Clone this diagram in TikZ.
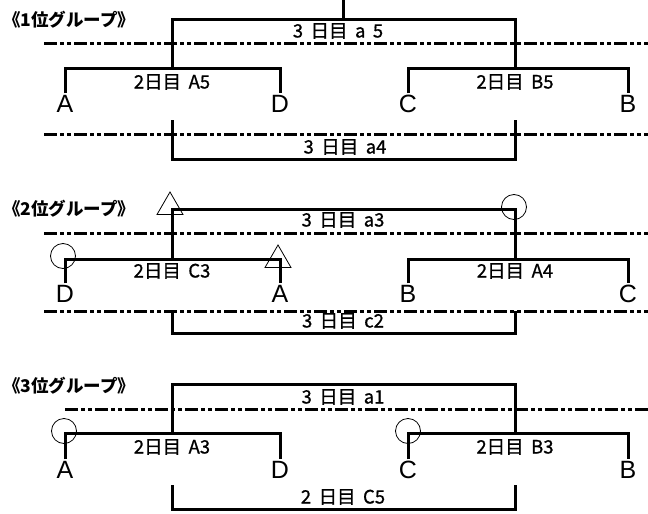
\documentclass[tikz,border=0pt]{standalone}
\usepackage{fontspec}
\setmainfont{Liberation Sans}
\newfontfamily\jpfont{Noto Sans CJK JP}[WordSpace=1.8, FakeBold=0.8]
\newfontfamily\jptitle{Noto Sans CJK JP}
\usetikzlibrary{shapes.geometric}

\tikzset{
  bracket/.style={line width=3pt},
  divline/.style={line width=3pt, dash pattern=on 13pt off 3pt on 4pt off 3pt on 4pt off 3pt},
  team/.style={inner sep=2pt, text height=17pt, text depth=0pt, font=\fontsize{25}{25}\selectfont},
  game/.style={inner sep=0pt, font=\jpfont\fontsize{18.5}{19}\selectfont},
  grouptitle/.style={inner sep=0pt, anchor=west, font=\jptitle\bfseries\fontsize{17.5}{18}\selectfont},
  okmark/.style={circle, draw, line width=0.8pt, minimum size=25pt, inner sep=0pt},
  trimark/.style={regular polygon, regular polygon sides=3, draw, line width=0.8pt, minimum size=30pt, inner sep=0pt}
}

\begin{document}
\begin{tikzpicture}[x=1pt, y=-1pt]
  \useasboundingbox (0,0) rectangle (648,514);

  % 1位グループ
  \node[grouptitle] (t1) at (3,20) {《1位グループ》};
  \draw[divline] (44,43) -- (648,43);
  \draw[divline] (44,134) -- (648,134);
  \foreach \n/\x in {A/65, D/280, C/408, B/628}
    \node[team] (g1\n) at (\x,104) {\n};
  \coordinate (g1L) at (172,68);
  \coordinate (g1R) at (515,68);
  \coordinate (g1T) at (343,19);
  \coordinate (g1in) at (343,0);
  \draw[bracket] (g1A.north) |- (g1L) -| (g1D.north);
  \draw[bracket] (g1C.north) |- (g1R) -| (g1B.north);
  \draw[bracket] (g1L) |- (g1T) -| (g1R);
  \draw[bracket] (g1T) -- (g1in);
  \node[game] (g1t) at (338,31) {3 日目 a 5};
  \node[game] (g1l) at (172,82) {2日目 A5};
  \node[game] (g1r) at (515,82) {2日目 B5};
  % 3日目 (下)
  \coordinate (g1bl) at (172,120);
  \coordinate (g1br) at (515,120);
  \coordinate (g1bm) at (343,159);
  \draw[bracket] (g1bl) |- (g1bm) -| (g1br);
  \node[game] (g1b) at (345,147) {3 日目 a4};

  % 2位グループ
  \node[grouptitle] (t2) at (3,209) {《2位グループ》};
  \draw[divline] (44,233) -- (648,233);
  \draw[divline] (44,311) -- (648,311);
  \foreach \n/\x in {D/65, A/280, B/408, C/628}
    \node[team] (g2\n) at (\x,294) {\n};
  \coordinate (g2L) at (172,259);
  \coordinate (g2R) at (515,259);
  \coordinate (g2T) at (343,209);
  \draw[bracket] (g2D.north) |- (g2L) -| (g2A.north);
  \draw[bracket] (g2B.north) |- (g2R) -| (g2C.north);
  \draw[bracket] (g2L) |- (g2T) -| (g2R);
  \node[game] (g2t) at (343,220) {3 日目 a3};
  \node[game] (g2l) at (172,271) {2日目 C3};
  \node[game] (g2r) at (515,271) {2日目 A4};
  % 3日目 (下)
  \coordinate (g2bl) at (172,311);
  \coordinate (g2br) at (515,311);
  \coordinate (g2bm) at (343,333);
  \draw[bracket] (g2bl) |- (g2bm) -| (g2br);
  \node[game] (g2b) at (343,321) {3 日目 c2};
  % 印
  \node[okmark] (o21) at (63,256) {};
  \node[okmark] (o22) at (514,207) {};
  \node[trimark] (s21) at (170,207) {};
  \node[trimark] (s22) at (278,260) {};

  % 3位グループ
  \node[grouptitle] (t3) at (3,386) {《3位グループ》};
  \draw[divline] (65,409) -- (648,409);
  \foreach \n/\x in {A/65, D/280, C/408, B/628}
    \node[team] (g3\n) at (\x,470) {\n};
  \coordinate (g3L) at (172,433);
  \coordinate (g3R) at (515,433);
  \coordinate (g3T) at (343,384);
  \draw[bracket] (g3A.north) |- (g3L) -| (g3D.north);
  \draw[bracket] (g3C.north) |- (g3R) -| (g3B.north);
  \draw[bracket] (g3L) |- (g3T) -| (g3R);
  \node[game] (g3t) at (343,397) {3 日目 a1};
  \node[game] (g3l) at (172,447) {2日目 A3};
  \node[game] (g3r) at (515,447) {2日目 B3};
  % 2日目 (下)
  \coordinate (g3bl) at (172,485);
  \coordinate (g3br) at (515,485);
  \coordinate (g3bm) at (343,509);
  \draw[bracket] (g3bl) |- (g3bm) -| (g3br);
  \node[game] (g3b) at (343,497) {2 日目 C5};
  % 印
  \node[okmark] (o31) at (64,431) {};
  \node[okmark] (o32) at (408,431) {};
\end{tikzpicture}
\end{document}
